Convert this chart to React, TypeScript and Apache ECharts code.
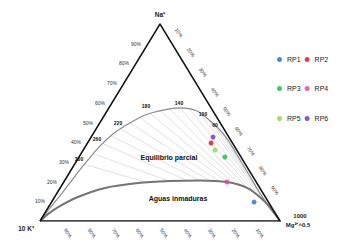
import React, { useEffect, useRef } from "react";
import * as echarts from "echarts";

// Sample points (ternary %, Na / K / Mg)
const sampleNames = ["RP1", "RP2", "RP3", "RP4", "RP5", "RP6"];
const sampleColors = ["#1f6fc4", "#d0161e", "#1fb24a", "#e2409c", "#8fd14f", "#6b2fa0"];
const naPct = [9.6, 39.6, 32.5, 19.8, 36.0, 42.6];
const kPct = [6.0, 8.9, 6.7, 12.2, 9.1, 6.6];
const mgPct = [84.4, 51.5, 60.8, 68.0, 54.9, 50.8];

// Full equilibrium curve (ternary %)
const fullEqNa = [0, 6.6, 14.2, 22.8, 31.0, 38.1, 44.2, 49.2, 53.8, 56.3, 57.4, 55.8, 50.8, 46.2, 41.1, 34.5, 27.9, 21.8, 15.7, 10.2, 5.6, 0];
const fullEqMg = [0, 0.9, 2.1, 3.2, 4.5, 6.0, 8.3, 12.1, 16.9, 23.1, 29.7, 37.5, 45.5, 51.9, 57.8, 64.4, 71.0, 77.0, 83.0, 88.7, 93.5, 100];

// Immature waters boundary (ternary %)
const immNa = [0, 3.6, 7.1, 12.2, 16.8, 19.3, 20.3, 20.6, 19.8, 16.8, 10.7, 5.1, 0];
const immMg = [0, 1.6, 4.0, 9.7, 18.7, 31.2, 44.0, 56.4, 68.0, 77.9, 87.6, 94.5, 100];

// Na/K isotherms: Na % where each line meets the Na–K side
const isoNaOnNaK = [30, 36, 42, 47, 52, 57, 62, 67, 72, 76.5, 81.5, 86, 90, 92.5, 94.5, 96, 97, 97.8, 98.5];

// Temperature labels
const tempLabels = ["300", "260", "220", "180", "140", "100", "60"];
const tempLabelPos = [[79, 159], [97, 139], [118, 123], [146, 106], [179, 103], [203, 114], [215, 125]];

// Axis tick labels (%)
const pctTicks = [10, 20, 30, 40, 50, 60, 70, 80, 90];

// Geometry
const G = { left: 40, top: 24, width: 240, height: 197 };
const FONT = '"Liberation Sans", Arial, Helvetica, sans-serif';

const toXY = (na: number, mg: number): [number, number] => [mg / 100 + na / 200, na / 100];
const toPx = (na: number, mg: number): [number, number] => {
  const [x, y] = toXY(na, mg);
  return [G.left + x * G.width, G.top + (1 - y) * G.height];
};

function txt(text: string, x: number, y: number, size: number, opts: any = {}) {
  return {
    type: "text",
    x,
    y,
    rotation: opts.rotation || 0,
    z: 100,
    silent: true,
    style: {
      text,
      fill: opts.fill || "#222",
      fontSize: size,
      fontWeight: opts.bold ? "bold" : "normal",
      fontFamily: FONT,
      align: opts.align || "center",
      textAlign: opts.align || "center",
      verticalAlign: "middle",
      textVerticalAlign: "middle",
    },
  };
}

function buildOption(): any {
  const graphics: any[] = [];
  // Left side: Na %
  pctTicks.forEach((t) => {
    const [px, py] = toPx(t, 0);
    graphics.push(txt(t + "%", px - 12, py, 5, { fill: "#333" }));
  });
  // Right side: Mg %
  pctTicks.forEach((t) => {
    const [px, py] = toPx(100 - t, t);
    graphics.push(txt(t + "%", px + 7, py - 11, 5, { fill: "#333", rotation: -0.95 }));
  });
  // Bottom: K %
  pctTicks.forEach((t) => {
    const [px, py] = toPx(0, 100 - t);
    graphics.push(txt(t + "%", px + 4, py + 12, 5, { fill: "#333", rotation: -0.95 }));
  });
  tempLabels.forEach((t, i) => {
    graphics.push(txt(t, tempLabelPos[i][0], tempLabelPos[i][1], 5, { bold: true, fill: "#111" }));
  });
  graphics.push(txt("Na\u207A", 160, 14, 6.5, { bold: true }));
  graphics.push(txt("10 K\u207A", 26, 228, 6.5, { bold: true }));
  graphics.push(txt("1000", 300, 216, 6, { bold: true }));
  graphics.push(txt("Mg\u00B2\u207A^0.5", 298, 225, 6, { bold: true }));
  graphics.push(txt("Equilibrio parcial", 169, 157, 7, { bold: true, fill: "#111" }));
  graphics.push(txt("Aguas inmaduras", 178, 198, 7, { bold: true, fill: "#111" }));

  const series: any[] = [
    {
      type: "lines",
      coordinateSystem: "cartesian2d",
      silent: true,
      z: 1,
      lineStyle: { color: "#cdcdcd", width: 0.6, opacity: 1 },
      data: isoNaOnNaK.map((p) => ({ coords: [toXY(p, 0), toXY(0, 100)] })),
    },
    {
      type: "line",
      name: "full",
      silent: true,
      z: 3,
      smooth: 0.3,
      symbol: "none",
      data: fullEqNa.map((n, i) => toXY(n, fullEqMg[i])),
      lineStyle: { color: "#8c8c8c", width: 1.2 },
      areaStyle: { color: "#ffffff", opacity: 1, origin: "end" },
    },
    {
      type: "line",
      name: "imm",
      silent: true,
      z: 3,
      smooth: 0.3,
      symbol: "none",
      data: immNa.map((n, i) => toXY(n, immMg[i])),
      lineStyle: { color: "#747474", width: 2 },
      areaStyle: { color: "#ffffff", opacity: 1, origin: "start" },
    },
    {
      type: "line",
      name: "tri",
      silent: true,
      z: 4,
      symbol: "none",
      data: [toXY(0, 0), toXY(0, 100), toXY(100, 0), toXY(0, 0)],
      lineStyle: { color: "#111", width: 1.5, join: "miter" },
    },
    ...sampleNames.map((name, i) => ({
      type: "scatter",
      name,
      z: 5,
      symbol: "circle",
      symbolSize: 5,
      itemStyle: { color: sampleColors[i] },
      data: [toXY(naPct[i], mgPct[i])],
    })),
  ];

  const legendBase = {
    icon: "circle",
    itemWidth: 5,
    itemHeight: 5,
    itemGap: 4,
    padding: 0,
    left: 277,
    textStyle: { fontSize: 7, color: "#222", fontFamily: FONT },
    selectedMode: false,
  };

  return {
    animation: false,
    backgroundColor: "#ffffff",
    grid: { left: G.left, top: G.top, width: G.width, height: G.height, containLabel: false },
    xAxis: { type: "value", min: 0, max: 1, show: false },
    yAxis: { type: "value", min: 0, max: 1, show: false },
    legend: [
      { ...legendBase, top: 56, data: [sampleNames[0], sampleNames[1]] },
      { ...legendBase, top: 85, data: [sampleNames[2], sampleNames[3]] },
      { ...legendBase, top: 115, data: [sampleNames[4], sampleNames[5]] },
    ],
    graphic: { elements: graphics },
    series,
  };
}

export default function App() {
  const ref = useRef<HTMLDivElement>(null);
  useEffect(() => {
    if (!ref.current) return;
    const chart = echarts.init(ref.current, undefined, { renderer: "svg" });
    chart.setOption(buildOption());
    return () => chart.dispose();
  }, []);
  return (
    <div
      ref={ref}
      style={{ position: "fixed", left: 0, top: 0, width: 356, height: 245, background: "#fff" }}
    />
  );
}
